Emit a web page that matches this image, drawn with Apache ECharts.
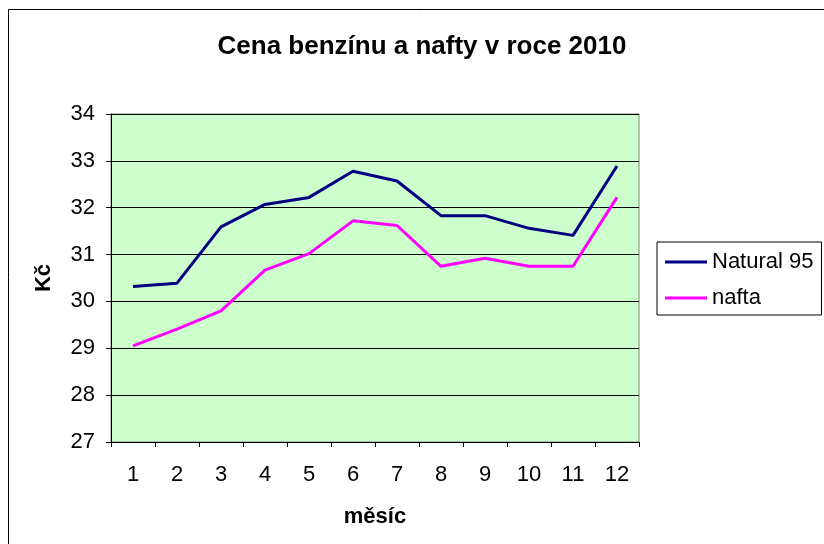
<!DOCTYPE html>
<html>
<head>
<meta charset="utf-8">
<script src="https://cdn.jsdelivr.net/npm/echarts@6/dist/echarts.min.js"></script>
<style>
  html, body { margin: 0; padding: 0; background: #fff; }
  #chart { width: 824px; height: 544px; }
</style>
</head>
<body>
<div id="chart"></div>
<script>
// data
const months = ['1', '2', '3', '4', '5', '6', '7', '8', '9', '10', '11', '12'];
const natural95 = [30.32, 30.39, 31.59, 32.07, 32.22, 32.78, 32.57, 31.83, 31.83, 31.56, 31.41, 32.89];
const nafta = [29.05, 29.41, 29.80, 30.67, 31.02, 31.72, 31.62, 30.75, 30.92, 30.75, 30.75, 32.22];
const yTicks = { min: 27, max: 34, step: 1 };

const font = '"Liberation Sans", Arial, sans-serif';
const myChart = echarts.init(document.getElementById('chart'));

const option = {
    backgroundColor: '#fff',
    animation: false,
    title: {
        text: 'Cena benzínu a nafty v roce 2010',
        left: 417,
        top: 29,
        textAlign: 'center',
        textStyle: { fontFamily: font, fontSize: 26, fontWeight: 'bold', color: '#000' }
    },
    graphic: [{
        // outer chart frame (runs off the right/bottom edge)
        type: 'rect',
        shape: { x: 8.5, y: 9.5, width: 830, height: 550 },
        style: { fill: 'none', stroke: '#000', lineWidth: 1 },
        silent: true,
        z: -1
    }],
    legend: {
        orient: 'vertical',
        left: 657,
        top: 242,
        padding: [9, 8, 6, 8],
        itemGap: 14,
        itemWidth: 42,
        itemHeight: 3,
        borderColor: '#000',
        borderWidth: 1,
        icon: 'rect',
        textStyle: { fontFamily: font, fontSize: 22, color: '#000' },
        data: ['Natural 95', 'nafta']
    },
    grid: {
        left: 111,
        top: 114,
        right: 185,
        bottom: 102,
        show: true,
        backgroundColor: '#CCFFCC',
        borderColor: '#808080',
        borderWidth: 1
    },
    xAxis: {
        type: 'category',
        data: months,
        boundaryGap: true,
        name: 'měsíc',
        nameLocation: 'middle',
        nameGap: 64,
        nameTextStyle: { fontFamily: font, fontSize: 22, fontWeight: 'bold', color: '#000' },
        axisLine: { lineStyle: { color: '#000', width: 1 } },
        axisTick: { show: true, alignWithLabel: false, length: 5, lineStyle: { color: '#000' } },
        axisLabel: { fontFamily: font, fontSize: 22, color: '#000', margin: 22 }
    },
    yAxis: {
        type: 'value',
        min: yTicks.min,
        max: yTicks.max,
        interval: yTicks.step,
        name: 'Kč',
        nameLocation: 'middle',
        nameGap: 56,
        nameTextStyle: { fontFamily: font, fontSize: 22, fontWeight: 'bold', color: '#000' },
        axisLine: { show: true, lineStyle: { color: '#000', width: 1 } },
        axisTick: { show: true, length: 5, lineStyle: { color: '#000' } },
        axisLabel: { fontFamily: font, fontSize: 22, color: '#000', margin: 16 },
        splitLine: { show: true, lineStyle: { color: '#000', width: 1 } }
    },
    series: [
        {
            name: 'Natural 95',
            type: 'line',
            data: natural95,
            symbol: 'none',
            color: '#000080',
            lineStyle: { color: '#000080', width: 3 }
        },
        {
            name: 'nafta',
            type: 'line',
            data: nafta,
            symbol: 'none',
            color: '#FF00FF',
            lineStyle: { color: '#FF00FF', width: 3 }
        }
    ]
};
myChart.setOption(option);
</script>
</body>
</html>
